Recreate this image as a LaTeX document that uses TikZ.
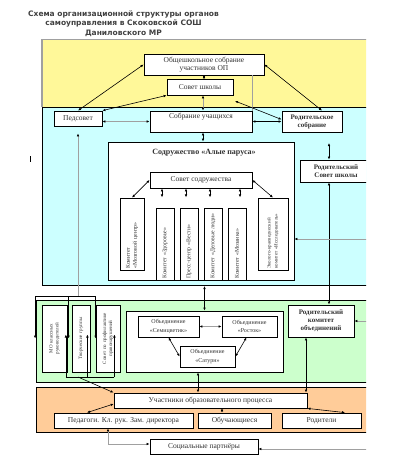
\documentclass[tikz,border=0pt]{standalone}
\usepackage{fontspec}
\setmainfont{Liberation Serif}
\newfontfamily\titlefont{DejaVu Sans}
\usepackage{xcolor}
\definecolor{fff899}{HTML}{FFF899}
\definecolor{ccffff}{HTML}{CCFFFF}
\definecolor{ccffcc}{HTML}{CCFFCC}
\definecolor{ffcc99}{HTML}{FFCC99}
\definecolor{a0a0a0}{HTML}{A0A0A0}
\usepackage{tikz}
\usetikzlibrary{arrows.meta}

\begin{document}
\begin{tikzpicture}[x=1pt, y=-1pt,
    box/.style={draw, line width=.8pt, fill=white, inner sep=1pt, align=center, text=black!80,
        font=\fontsize{7.5}{8}\selectfont},
    rbox/.style={box, font=\bfseries\fontsize{7}{8}\selectfont},
    obox/.style={box, font=\fontsize{6}{8.5}\selectfont},
    vbox/.style={box, rotate=90, text width=69, align=left, font=\fontsize{5.8}{7}\selectfont},
    gvbox/.style={vbox, text width=60, align=center, font=\fontsize{5}{6}\selectfont},
    link/.style={line width=.6pt, >={Latex[length=3pt,width=2.6pt]}},
    glink/.style={line width=1pt, draw=a0a0a0, >={Latex[length=3pt,width=2.6pt,color=black]}}]
            \useasboundingbox (0,0) rectangle (405,458);

            \node[font=\titlefont\bfseries\fontsize{7.5}{9.5}\selectfont, text=black!75, align=center] (title)
                at (123.5,23.5) {Схема организационной структуры органов\\самоуправления в Скоковской СОШ\\Даниловского МР};
            \draw[line width=.8pt] (30,156) -- (30,162);

            \begin{scope}
            \clip (0,0) rectangle (366,458);
            \fill[fff899] (42,39) rectangle (370,107);
            \draw[a0a0a0, line width=.8pt] (42,39) -- (370,39);
            \draw[a0a0a0, line width=2pt] (42,39) -- (42,107);
            \draw[line width=.8pt, fill=ccffff] (42,107) rectangle (370,285);
            \draw[line width=.8pt, fill=ccffcc] (36,300) rectangle (370,382);
            \draw[line width=.8pt, fill=ffcc99] (36,387) rectangle (370,432);

            \node[box, minimum width=120, minimum height=21] (os) at (204,64.5) {Общешкольное собрание\\участников ОП};
            \node[box, minimum width=66, minimum height=16] (ss) at (200,87) {Совет школы};
            \node[box, minimum width=48, minimum height=15] (ped) at (78,118.5) {Педсовет};
            \node[box, minimum width=102, minimum height=21, text height=6pt, text depth=12pt] (su) at (201,121.5) {Собрание учащихся};
            \node[rbox, minimum width=60, minimum height=21] (rs) at (312,121.5) {Родительское\\собрание};
            \node[rbox, minimum width=72, minimum height=22] (rss) at (336,171) {Родительский\\Совет школы};

            \node[box, minimum width=186, minimum height=138] (sod) at (201,211) {};
            \node[font=\bfseries\fontsize{8}{9}\selectfont, text=black!80] (sodt) at (204,153) {Содружество «Алые паруса»};
            \node[box, minimum width=102, minimum height=16] (sovs) at (201,180) {Совет содружества};
            \node[vbox, minimum width=72, minimum height=24] (k1) at (132,234) {Комитет\\«Мозговой центр»};
            \node[vbox, minimum width=72, minimum height=18] (k2) at (165,244) {Комитет «Здоровье»};
            \node[vbox, minimum width=72, minimum height=18] (k3) at (189,244) {Пресс-центр «Вести»};
            \node[vbox, minimum width=72, minimum height=18] (k4) at (213,244) {Комитет «Деловые люди»};
            \node[vbox, minimum width=72, minimum height=18] (k5) at (237,244) {Комитет «Мозаика»};
            \node[vbox, minimum width=72, minimum height=30, font=\fontsize{5}{7}\selectfont] (k6) at (273,234)
                {Эколого-краеведческий\\комитет «Исследователь»};

            \node[gvbox, minimum width=67, minimum height=25] (mo) at (54.5,338.5) {МО классных\\руководителей};
            \node[gvbox, minimum width=67, minimum height=18] (tg) at (81,338.5) {Творческие группы};
            \node[gvbox, minimum width=67, minimum height=24] (spp) at (108,338.5) {Совет по профилактике\\правонарушений};
            \node[box, minimum width=157, minimum height=61] (ob) at (204.5,341.5) {};
            \node[obox, minimum width=61, minimum height=21] (sem) at (168.5,326.5) {Объединение\\«Семицветик»};
            \node[obox, minimum width=55, minimum height=21] (ros) at (249.5,326.5) {Объединение\\«Росток»};
            \node[obox, minimum width=55, minimum height=21] (sat) at (207.5,356.5) {Объединение\\«Сатурн»};
            \node[rbox, minimum width=66, minimum height=32] (rko) at (321,321) {Родительский\\комитет\\объединений};

            \node[box, minimum width=193, minimum height=15] (uop) at (210.5,400.5) {Участники образовательного процесса};
            \node[box, minimum width=139, minimum height=15] (ped2) at (123.5,420.5) {Педагоги. Кл. рук. Зам. директора};
            \node[box, minimum width=73, minimum height=15] (obu) at (234.5,420.5) {Обучающиеся};
            \node[box, minimum width=79, minimum height=15] (rod) at (321.5,420.5) {Родители};
            \node[box, minimum width=108, minimum height=15] (sp) at (204,446.5) {Социальные партнёры};

            \coordinate (sfree) at (235,101);
            \coordinate (rsfree) at (329,143);
            \coordinate (brtop) at (78,296);
            \coordinate (brbot) at (78,377);
            \coordinate (cyanbot) at (204,286);
            \coordinate (edge1) at (370,239);
            \coordinate (edge2) at (370,321);
            \coordinate (edge3) at (370,449);

            \draw[link,<->] (os.west) -- (ped.north);
            \draw[link,<->] (os.east) -- ([xshift=10]rs.north);
            \draw[link,<->] (ss.south west) -- (ped.north east);
            \draw[link,<->] (os.south) -- (os.south |- ss.north);
            \draw[glink,<->] ([xshift=3]ss.south) -- ([xshift=3]ss.south |- su.north);
            \draw[glink] ([xshift=-12]os.south east) -- ([xshift=-12]os.south east |- su.north);
            \draw[link,<->] (sfree) -- ([yshift=2]rs.west);
            \draw[link,<->] (su.east) -- (rs.west);
            \draw[glink,<->] ([yshift=-3]ped.east) -- ([yshift=-3]ped.east -| su.west);
            \draw[link,<->] ([xshift=2]su.south) -- ([xshift=2]su.south |- sod.north);
            \draw[link,<->] (rsfree) -- (rsfree |- rss.north);
            \draw[link,<->] (rsfree |- rss.south) -- (rsfree |- rko.north);

            \draw[link,<->] (sovs.west) -- (k1.east);
            \draw[link,<->] (sovs.east) -- (k6.east);
            \foreach \s in {-39,-15,9,39}
                \draw[link,<->] ([xshift=\s]sovs.south) -- ([xshift=\s,yshift=-9]sovs.south);
            \draw[glink,->] (edge1) -- (edge1 -| sod.east);

            \draw[glink,<-] ([yshift=-7]ped.south) -- (brtop);
            \draw[link] ([xshift=-6.5]mo.north |- brtop) -- (spp.north |- brtop);
            \foreach \n/\s in {mo/-6.5,tg/-3,spp/0}
                \draw[link,->] ([xshift=\s]\n.north |- brtop) -- ([xshift=\s]\n.north);
            \draw[link] ([xshift=-1.5]mo.south |- brbot) -- ([xshift=-6]spp.south |- brbot);
            \foreach \n/\s in {mo/-1.5,tg/-3,spp/-6}
                \draw[link,->] ([xshift=\s]\n.south |- brbot) -- ([xshift=\s,yshift=4]\n.south);
            \draw[link,->] (brbot) -- (uop.north west);

            \draw[link,<->] (ob.north |- cyanbot) -- (ob.north);
            \draw[glink,<->] (sem.east) -- (ros.west);
            \draw[link,<->] (sem.south) -- (sat.west);
            \draw[link,<->] ([xshift=-3]ros.south) -- (sat.east);
            \draw[link,<->] ([xshift=-6.5]ob.south) -- ([xshift=-6.5]ob.south |- uop.north);
            \draw[link,<->] ([xshift=-15]rko.south) -- ([xshift=-15]rko.south |- uop.north);
            \draw[glink,->] (edge2) -- (rko.east);

            \draw[link,<->] ([yshift=-3.5]uop.west) -- ([xshift=-36.5]ped2.north);
            \draw[link,<->] ([xshift=-12.5]obu.north |- uop.south) -- ([xshift=-12.5]obu.north);
            \draw[link,<->] (uop.south east) -- ([xshift=23.5]rod.north);
            \draw[glink,<->] ([xshift=-15.5]ped2.south) |- ([yshift=2.5]sp.west);
            \draw[glink,->] (edge3) -- (edge3 -| sp.east);
            \end{scope}
        \end{tikzpicture}
\end{document}
